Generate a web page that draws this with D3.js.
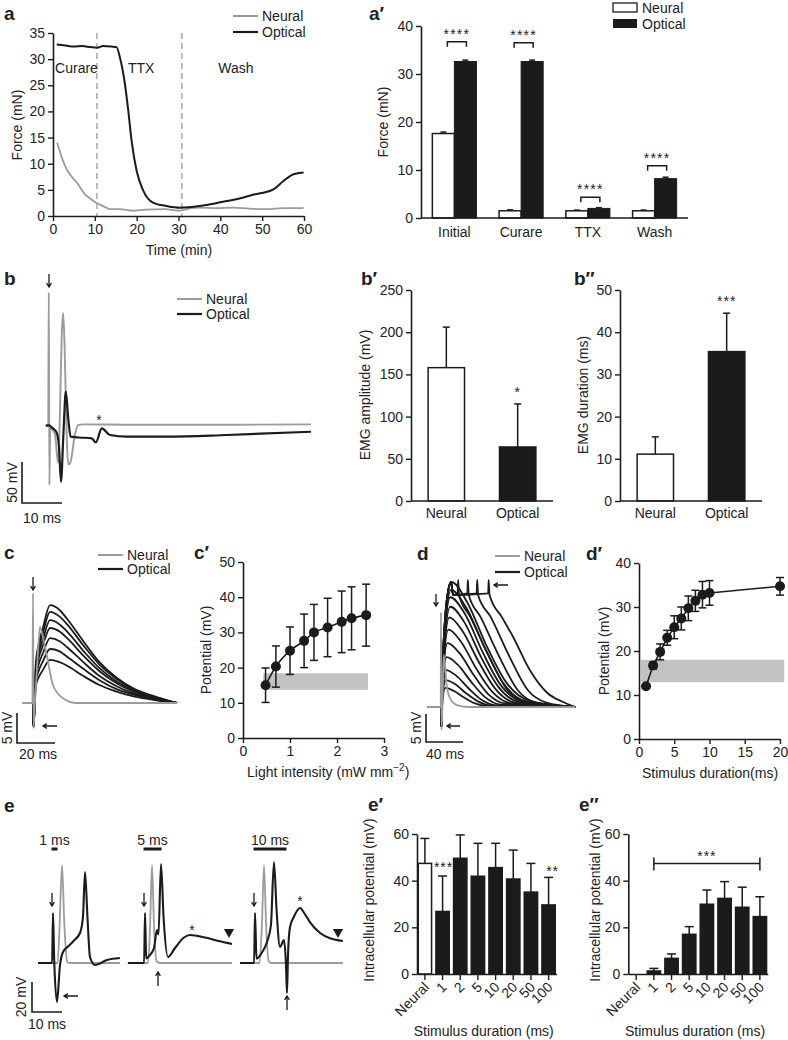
<!DOCTYPE html>
<html><head><meta charset="utf-8">
<script src="https://cdn.jsdelivr.net/npm/d3@7/dist/d3.min.js"></script>
<style>
html,body{margin:0;padding:0;background:#fff;}
svg{display:block;font-family:"Liberation Sans",Arial,Helvetica,sans-serif;}
</style></head><body>
<svg id="fig" width="788" height="1040"></svg>
<script>
// ======================= DATA =======================
const seriesNames = ["Neural", "Optical"];

// ---- a: force time course (min, mN)
const aTimeTicks = [0, 10, 20, 30, 40, 50, 60];
const aForceTicks = [0, 5, 10, 15, 20, 25, 30, 35];
const aNeuralTime  = [1.0, 2.1, 3.3, 4.5, 5.7, 7.7, 9.0, 10.4, 12.0, 13.6, 16, 18.9, 22, 26.8, 30, 33, 35, 39, 43, 47, 51, 55, 59.9];
const aNeuralForce = [14.0, 11.2, 8.9, 7.5, 6.4, 4.1, 3.3, 2.5, 1.9, 1.3, 1.3, 1.0, 1.2, 1.3, 1.0, 1.5, 1.6, 1.5, 1.6, 1.4, 1.3, 1.5, 1.5];
const aOpticalTime  = [0.9, 3, 5, 7, 9, 10.5, 12, 14, 15.2, 16, 17.2, 18, 18.8, 20, 21.6, 24, 27.2, 30.3, 35, 39.2, 43.2, 48, 52.7, 55.1, 57.5, 59.9];
const aOpticalForce = [32.8, 32.6, 32.4, 32.5, 32.3, 32.2, 32.5, 32.4, 32.3, 30.3, 25.2, 20.1, 14.3, 8.6, 4.8, 2.5, 1.9, 1.6, 1.9, 2.5, 3.1, 4.1, 5.1, 6.7, 8.0, 8.3];
const aPhaseBounds = [10.5, 30.8];
const aPhaseLabels = ["Curare", "TTX", "Wash"];
const aPhaseLabelTime = [0.5, 17.9, 39.5];

// ---- a′: force per condition
const aCats = ["Initial", "Curare", "TTX", "Wash"];
const aPrimeTicks = [0, 10, 20, 30, 40];
const aNeuralMean  = [17.6, 1.5, 1.5, 1.5];
const aNeuralSem   = [0.3, 0.2, 0.15, 0.15];
const aOpticalMean = [32.6, 32.6, 2.0, 8.2];
const aOpticalSem  = [0.3, 0.3, 0.15, 0.3];
const aSigLevel = [36.7, 36.5, 4.3, 10.9];
const aSigText  = ["****", "****", "****", "****"];

// ---- b: EMG traces (ms, mV)
const bNeuralT = [-0.3, 0.3, 0.45, 0.6, 0.8, 1.0, 2.0, 2.75, 4.0, 5.3, 5.8, 7.0, 7.75, 9, 20, 40, 66];
const bNeuralV = [0, 0.5, 163, -72, -2, -3, -10, -45, 138, -47, -45, -10, 1, 2, 1.5, 1.5, 2];
const bOpticalT = [-0.3, 0.3, 1.5, 2.4, 3.0, 3.5, 4.1, 4.7, 5.3, 5.9, 8, 11.2, 12.2, 13.7, 15.75, 20, 30, 45, 66];
const bOpticalV = [0, 1, -3, -8, -25, -68, -10, 42, 10, -13, -14, -15, -20, -3, -11, -13, -13, -11, -7];
const bScaleBar = {mV: 50, ms: 10};

// ---- b′, b″
const bGroups = ["Neural", "Optical"];
const bAmpTicks = [0, 50, 100, 150, 200, 250];
const bAmpMean = [158, 64];
const bAmpErr  = [48, 51];
const bAmpSig  = ["", "*"];
const bDurTicks = [0, 10, 20, 30, 40, 50];
const bDurMean = [11.1, 35.4];
const bDurErr  = [4.1, 9.1];
const bDurSig  = ["", "***"];

// ---- c: intracellular traces (ms, mV)
const cTime = [-5.3, 0, 0.3, 1.5, 3, 5, 9, 14, 18, 26.5, 35, 44, 53, 62, 70, 75.8];
const cOptical = [
  [0, 0, -4, 6.5, 9.8, 12.2, 16.3, 15.5, 14.0, 10.3, 6.8, 4.2, 2.4, 1.3, 0.5, 0],
  [0, 0, -4, 6.1, 9.1, 11.4, 15.2, 14.4, 13.1, 9.6, 6.4, 4.0, 2.3, 1.2, 0.5, 0],
  [0, 0, -4, 5.5, 8.3, 10.4, 13.8, 13.1, 11.9, 8.7, 5.8, 3.6, 2.1, 1.1, 0.4, 0],
  [0, 0, -4, 5.0, 7.5, 9.4, 12.5, 11.9, 10.8, 7.9, 5.3, 3.3, 1.9, 1.0, 0.4, 0],
  [0, 0, -4, 4.3, 6.5, 8.1, 10.8, 10.3, 9.3, 6.8, 4.5, 2.8, 1.6, 0.9, 0.3, 0],
  [0, 0, -4, 3.6, 5.4, 6.8, 9.0, 8.6, 7.7, 5.7, 3.8, 2.3, 1.4, 0.7, 0.3, 0],
  [0, 0, -4, 2.9, 4.3, 5.4, 7.2, 6.8, 6.2, 4.5, 3.0, 1.9, 1.1, 0.6, 0.2, 0]
];
const cNeural = [[-5.3, 0], [-0.3, 0], [0, 18.3], [0.3, -4.2], [1, 0], [2.5, 8], [3.7, 12.7], [5.5, 10.5], [7.4, 7.7], [10.5, 3], [15.8, 0.8], [23, 0], [75.8, 0]];
const cScaleBar = {mV: 5, ms: 20};

// ---- c′: potential vs light intensity
const cpTicksX = [0, 1, 2, 3];
const cpTicksY = [0, 10, 20, 30, 40, 50];
const cpIntensity = [0.48, 0.7, 1.0, 1.3, 1.51, 1.8, 2.1, 2.31, 2.62];
const cpPotential = [15.0, 20.3, 24.8, 27.6, 30.0, 31.4, 33.0, 34.0, 34.9];
const cpErr = [4.9, 5.85, 6.75, 7.6, 7.95, 8.3, 8.75, 8.95, 8.8];
const cpThreshold = {x0: 0.43, x1: 2.66, y0: 13.7, y1: 18.4};

// ---- d: intracellular traces for increasing stimulus duration (ms, mV)
const dOnset = [[-15, 0], [0, 0], [0.4, -3.5]];
const dOptical = [
  [[1.5, 1.0], [4.5, 3.4], [13.6, 2.9], [25, 1.7], [36, 0.7], [50, 0.2], [145, 0]],
  [[1.5, 1.4], [5, 4.8], [15, 4.1], [27.5, 2.4], [40, 1.0], [55, 0.2], [145, 0]],
  [[1.5, 2.0], [5.5, 6.6], [16.4, 5.6], [30, 3.3], [43.7, 1.3], [60, 0.3], [145, 0]],
  [[1.5, 2.7], [6, 8.9], [17.8, 7.6], [32.6, 4.5], [47.3, 1.8], [65, 0.4], [145, 0]],
  [[1.5, 3.4], [7, 11.4], [19.6, 9.7], [35.4, 5.7], [51, 2.3], [70, 0.6], [145, 0]],
  [[1.5, 4.1], [8, 13.8], [21.4, 11.7], [38, 6.9], [55, 2.8], [75, 0.7], [145, 0]],
  [[1.5, 4.8], [9, 16], [23, 13.6], [41, 8], [59, 3.2], [80, 0.8], [145, 0]],
  [[1.5, 5.4], [10, 17.9], [25, 15.2], [43, 9], [62, 3.6], [84, 0.9], [145, 0]],
  [[1.5, 5.9], [10, 19.6], [25.6, 16.7], [45, 9.8], [64.6, 3.9], [88, 1], [145, 0]],
  [[1.5, 6.3], [11, 20.9], [27, 17.8], [47.5, 10.5], [67.7, 4.2], [92, 1], [145, 0]],
  [[1.5, 6.6], [11.5, 22.3], [28, 18.8], [49, 11], [70.5, 4.4], [96, 1.1], [145, 0]],
  [[1.5, 6.6], [8, 21], [11, 22.3], [13, 20], [18, 20.3], [18.5, 22.7], [19.5, 20], [32, 16], [52, 9], [72, 3], [92, 0.8], [145, 0]],
  [[1.5, 6.6], [8, 21], [11, 22.3], [13, 20], [28.5, 20.3], [29, 22.7], [30, 20], [43, 16], [63, 9], [83, 3], [103, 0.8], [145, 0]],
  [[1.5, 6.6], [8, 21], [11, 22.3], [13, 20], [38.6, 20.3], [39.1, 22.7], [40.1, 20], [54, 16], [74, 9], [94, 3], [114, 0.8], [145, 0]],
  [[1.5, 6.6], [8, 21], [11, 22.3], [13, 20], [51, 20.3], [51.5, 22.7], [52.5, 20], [66, 16], [78, 12.5], [96, 6.6], [115, 2.5], [132, 0.9], [145, 0]]
];
const dNeural = [[-15, 0], [-0.3, 0], [0, 16.9], [0.5, -4.1], [1.5, 0], [3, 9.3], [6, 4], [10, 1.5], [18, 0.3], [30, 0], [145, 0]];
const dScaleBar = {mV: 5, ms: 40};

// ---- d′: potential vs stimulus duration
const dpTicksX = [0, 5, 10, 15, 20];
const dpTicksY = [0, 10, 20, 30, 40];
const dpDuration  = [1, 2, 3, 4, 5, 6, 7, 8, 9, 10, 20];
const dpPotential = [12.0, 16.7, 19.8, 23.0, 25.4, 27.4, 29.7, 31.4, 32.8, 33.2, 34.7];
const dpErr = [0.5, 0.8, 1.8, 1.7, 2.6, 2.6, 2.8, 2.4, 3.0, 2.8, 2.0];
const dpThreshold = {x0: 0.28, x1: 20.6, y0: 12.9, y1: 18.0};

// ---- e: example traces for 1, 5, 10 ms stimuli (ms, mV)
const eStimDuration = [1, 5, 10];
const eStimLabel = ["1 ms", "5 ms", "10 ms"];
const eOptical = [
  [[-5, 0], [-0.3, 0], [0, 33.3], [0.4, 2], [1.33, -26], [2.3, -2], [3.33, 7.3], [5, 11], [7, 15], [9, 20], [10, 31], [10.67, 60.7], [11.5, 30], [12.33, 4], [14, -1.3], [18, 2], [22.3, 3.3]],
  [[-5.7, 0], [-0.3, 0], [0, 33.3], [0.4, 3], [1.5, 5], [3, 10], [4, 22], [4.5, 19], [5.33, 66], [6.2, 30], [7.67, 4], [10, 10], [13, 17], [15, 18.7], [20, 17], [25, 14.5], [29, 12.7]],
  [[-5, 0], [-0.3, 0], [0, 33.3], [0.5, 3], [2, 6], [4, 14], [5.3, 25], [6.33, 67.3], [7.2, 35], [8.33, 10.7], [9.67, 15.3], [10.3, 0], [10.67, -20], [11, 5], [11.67, 24], [13, 31], [15, 36.7], [16.5, 33], [18.3, 27.3], [21.7, 20], [25, 16.5], [29.3, 14.7]]
];
const eNeural = [
  [[-5, 0], [1.5, 0], [2.2, 25], [3, 65.3], [3.8, 25], [4.7, 1], [5.5, 0], [22.3, 0]],
  [[-5.7, 0], [1, 0], [1.7, 25], [2.33, 65.3], [3.0, 25], [3.9, 1], [5, 0], [29, 0]],
  [[-5, 0], [1.5, 0], [2.3, 25], [3, 65.3], [3.7, 25], [4.6, 1], [5.5, 0], [29.3, 0]]
];
const eScaleBar = {mV: 20, ms: 10};

// ---- e′, e″: intracellular potential by stimulus duration
const eCats = ["Neural", "1", "2", "5", "10", "20", "50", "100"];
const eTicksY = [0, 20, 40, 60];
const ePrimeMean = [47.4, 26.8, 49.6, 41.9, 45.6, 40.7, 35.1, 29.6];
const ePrimeErr  = [10.7, 15.2, 10.0, 14.1, 10.4, 12.4, 12.3, 11.8];
const ePrimeSig  = ["", "***", "", "", "", "", "", "**"];
const eDblMean = [0, 1.3, 6.7, 17.0, 29.9, 32.4, 28.6, 24.6];
const eDblErr  = [0, 1.1, 1.9, 3.3, 6.1, 7.2, 8.6, 8.5];
const eDblSigRange = ["1", "100"];
const eDblSigLevel = 47.4;
const eDblSigText = "***";

// ======================= DRAWING =======================
const FONT = '"Liberation Sans", Arial, Helvetica, sans-serif';
const INK = "#1b1b1b", GREY = "#9b9b9b", TXT = "#222";
const svg = d3.select("#fig");
svg.append("rect").attr("width", 788).attr("height", 1040).attr("fill", "#fff");

function label(x, y, str, opt = {}) {
  const t = svg.append("text").attr("x", x).attr("y", y).text(str)
    .attr("font-size", opt.size || 14).attr("fill", opt.fill || TXT)
    .attr("text-anchor", opt.anchor || "start").attr("font-family", FONT);
  if (opt.bold) t.attr("font-weight", "bold");
  if (opt.rotate !== undefined) t.attr("transform", `rotate(${opt.rotate},${x},${y})`);
  if (opt.ls) t.attr("letter-spacing", opt.ls);
  return t;
}
function styleAxis(g) {
  g.attr("font-family", FONT).attr("font-size", 14);
  g.select(".domain").attr("stroke", INK).attr("stroke-width", 1.6);
  g.selectAll(".tick line").attr("stroke", INK).attr("stroke-width", 1.4);
  g.selectAll(".tick text").attr("fill", TXT);
}
function leftAxis(scale, x, ticks) {
  const g = svg.append("g").attr("transform", `translate(${x},0)`)
    .call(d3.axisLeft(scale).tickValues(ticks).tickFormat(d3.format("d")).tickSize(5).tickPadding(3).tickSizeOuter(0));
  styleAxis(g); return g;
}
function bottomAxis(scale, y, ticks) {
  const g = svg.append("g").attr("transform", `translate(0,${y})`)
    .call(d3.axisBottom(scale).tickValues(ticks).tickFormat(d3.format("d")).tickSize(5).tickPadding(3).tickSizeOuter(0));
  styleAxis(g); return g;
}
function hline(x1, x2, y, w = 1.6) {
  svg.append("line").attr("x1", x1).attr("x2", x2).attr("y1", y).attr("y2", y).attr("stroke", INK).attr("stroke-width", w);
}
function arrow(x1, y1, x2, y2) {
  const a = Math.atan2(y2 - y1, x2 - x1), h = 4.5, w = 0.55;
  const p = `M${x1},${y1}L${x2},${y2}M${x2 - h * Math.cos(a - w)},${y2 - h * Math.sin(a - w)}L${x2},${y2}L${x2 - h * Math.cos(a + w)},${y2 - h * Math.sin(a + w)}`;
  svg.append("path").attr("d", p).attr("fill", "none").attr("stroke", INK).attr("stroke-width", 1.3);
}
function trace(data, xs, ys, color, width) {
  svg.append("path").datum(data)
    .attr("d", d3.line().x(d => xs(d[0])).y(d => ys(d[1])).curve(d3.curveMonotoneX))
    .attr("fill", "none").attr("stroke", color).attr("stroke-width", width).attr("stroke-linejoin", "round");
}
function lineLegend(x, yN, yO) {
  svg.append("line").attr("x1", x).attr("x2", x + 25).attr("y1", yN).attr("y2", yN).attr("stroke", GREY).attr("stroke-width", 2);
  svg.append("line").attr("x1", x).attr("x2", x + 25).attr("y1", yO).attr("y2", yO).attr("stroke", INK).attr("stroke-width", 2.2);
  label(x + 29, yN + 5, seriesNames[0]);
  label(x + 29, yO + 5, seriesNames[1]);
}
function scaleBar(x0, y0, xs, ys, bar, mvText, msText, msX, msY, mvX) {
  const len = xs(bar.ms) - xs(0), ht = ys(0) - ys(bar.mV);
  svg.append("path").attr("d", `M${x0},${y0 - ht}V${y0}H${x0 + len}`).attr("fill", "none").attr("stroke", INK).attr("stroke-width", 1.6);
  label(mvX, y0 - ht / 2, mvText, {anchor: "middle", rotate: -90});
  label(msX, msY, msText, {anchor: "middle"});
}
function errUp(x, yTop, yBar, cap) {
  svg.append("line").attr("x1", x).attr("x2", x).attr("y1", yBar).attr("y2", yTop).attr("stroke", INK).attr("stroke-width", 1.5);
  svg.append("line").attr("x1", x - cap / 2).attr("x2", x + cap / 2).attr("y1", yTop).attr("y2", yTop).attr("stroke", INK).attr("stroke-width", 1.5);
}
function errBoth(x, y1, y2, cap) {
  svg.append("line").attr("x1", x).attr("x2", x).attr("y1", y1).attr("y2", y2).attr("stroke", INK).attr("stroke-width", 1.5);
  [y1, y2].forEach(y => svg.append("line").attr("x1", x - cap / 2).attr("x2", x + cap / 2).attr("y1", y).attr("y2", y).attr("stroke", INK).attr("stroke-width", 1.5));
}

// ---------- Panel a ----------
{
  const x = d3.scaleLinear().domain([0, 60]).range([53, 304]);
  const y = d3.scaleLinear().domain([0, 35]).range([216, 33]);
  aPhaseBounds.forEach(t => svg.append("line").attr("x1", x(t)).attr("x2", x(t)).attr("y1", y(35)).attr("y2", y(0))
    .attr("stroke", "#a9a9a9").attr("stroke-width", 1.5).attr("stroke-dasharray", "6,4"));
  trace(d3.zip(aNeuralTime, aNeuralForce), x, y, GREY, 1.8);
  trace(d3.zip(aOpticalTime, aOpticalForce), x, y, INK, 2);
  leftAxis(y, 53, aForceTicks);
  bottomAxis(x, 216, aTimeTicks);
  aPhaseLabels.forEach((s, i) => label(x(aPhaseLabelTime[i]), 73, s));
  label(179, 255, "Time (min)", {anchor: "middle"});
  label(22, 125, "Force (mN)", {anchor: "middle", rotate: -90});
  lineLegend(233, 16, 32);
  label(4, 20, "a", {bold: true, size: 19});
}

// ---------- Panel a′ ----------
{
  const x0 = d3.scaleBand().domain(aCats).range([421, 688]).paddingInner(0.34).paddingOuter(0.17);
  const x1 = d3.scaleBand().domain(seriesNames).range([0, x0.bandwidth()]);
  const y = d3.scaleLinear().domain([0, 40]).range([218, 26]);
  const bw = x1.bandwidth();
  aCats.forEach((c, i) => {
    const xn = x0(c) + x1("Neural"), xo = x0(c) + x1("Optical");
    svg.append("rect").attr("x", xn).attr("width", bw).attr("y", y(aNeuralMean[i])).attr("height", y(0) - y(aNeuralMean[i]))
      .attr("fill", "#fff").attr("stroke", INK).attr("stroke-width", 1.5);
    svg.append("rect").attr("x", xo).attr("width", bw).attr("y", y(aOpticalMean[i])).attr("height", y(0) - y(aOpticalMean[i]))
      .attr("fill", INK).attr("stroke", INK).attr("stroke-width", 1);
    errUp(xn + bw / 2, y(aNeuralMean[i] + aNeuralSem[i]), y(aNeuralMean[i]), 6);
    errUp(xo + bw / 2, y(aOpticalMean[i] + aOpticalSem[i]), y(aOpticalMean[i]), 6);
    const bx1 = xn + bw / 2 + 4, bx2 = xo + bw / 2 + 1, by = y(aSigLevel[i]);
    svg.append("path").attr("d", `M${bx1},${by + 5}V${by}H${bx2}V${by + 5}`).attr("fill", "none").attr("stroke", INK).attr("stroke-width", 1.5);
    label((bx1 + bx2) / 2, by - 3, aSigText[i], {anchor: "middle", size: 14, ls: 1.2});
    label(x0(c) + x0.bandwidth() / 2, 237, c, {anchor: "middle"});
  });
  hline(421, 688, y(0));
  leftAxis(y, 421, aPrimeTicks);
  label(388, 122, "Force (mN)", {anchor: "middle", rotate: -90});
  svg.append("rect").attr("x", 613).attr("y", 3).attr("width", 24).attr("height", 9).attr("fill", "#fff").attr("stroke", INK).attr("stroke-width", 1.3);
  svg.append("rect").attr("x", 613).attr("y", 19).attr("width", 24).attr("height", 9).attr("fill", INK);
  label(642, 13, seriesNames[0]);
  label(642, 29, seriesNames[1]);
  label(369, 20, "a′", {bold: true, size: 19});
}

// ---------- Panel b ----------
{
  const x = d3.scaleLinear().domain([0, 10]).range([47, 87]);
  const y = d3.scaleLinear().domain([0, 50]).range([426, 385]);
  trace(d3.zip(bNeuralT, bNeuralV), x, y, GREY, 1.9);
  trace(d3.zip(bOpticalT, bOpticalV), x, y, INK, 2.2);
  arrow(49, 274, 49, 287);
  label(99, 425, "*", {anchor: "middle"});
  scaleBar(22, 503, x, y, bScaleBar, "50 mV", "10 ms", 42, 523, 17);
  lineLegend(177, 299, 314);
  label(4, 285, "b", {bold: true, size: 19});
}

// ---------- Panels b′ and b″ ----------
function twoBar(rangeX, y, ticks, mean, err, sig, title, titleX, letter, letterX) {
  const x = d3.scaleBand().domain(bGroups).range(rangeX).paddingInner(0.49).paddingOuter(0.24);
  bGroups.forEach((g, i) => {
    svg.append("rect").attr("x", x(g)).attr("width", x.bandwidth()).attr("y", y(mean[i])).attr("height", y(0) - y(mean[i]))
      .attr("fill", i === 0 ? "#fff" : INK).attr("stroke", INK).attr("stroke-width", 1.5);
    const cx = x(g) + x.bandwidth() / 2;
    errUp(cx, y(mean[i] + err[i]), y(mean[i]), 7);
    if (sig[i]) label(cx, y(mean[i] + err[i]) - 7, sig[i], {anchor: "middle", ls: 1});
    label(cx, 518, g, {anchor: "middle"});
  });
  hline(rangeX[0], rangeX[1], y(0));
  leftAxis(y, rangeX[0], ticks);
  label(titleX, 395, title, {anchor: "middle", rotate: -90});
  label(letterX, 285, letter, {bold: true, size: 19});
}
twoBar([411, 553], d3.scaleLinear().domain([0, 250]).range([501, 290]), bAmpTicks, bAmpMean, bAmpErr, bAmpSig, "EMG amplitude (mV)", 370, "b′", 361);
twoBar([620, 762], d3.scaleLinear().domain([0, 50]).range([501, 290]), bDurTicks, bDurMean, bDurErr, bDurSig, "EMG duration (ms)", 588, "b″", 574);

// ---------- Panel c ----------
{
  const x = d3.scaleLinear().domain([0, 20]).range([33, 71]);
  const y = d3.scaleLinear().domain([0, 5]).range([703, 673]);
  cOptical.forEach(vals => trace(d3.zip(cTime, vals), x, y, INK, 1.8));
  trace(cNeural, x, y, GREY, 1.8);
  arrow(33, 577, 33, 590);
  arrow(57, 726, 43, 726);
  scaleBar(17, 743, x, y, cScaleBar, "5 mV", "20 ms", 38, 759, 12);
  lineLegend(98, 555, 569);
  label(4, 559, "c", {bold: true, size: 19});
}

// ---------- Panel c′ ----------
{
  const x = d3.scaleLinear().domain([0, 3]).range([243, 384]);
  const y = d3.scaleLinear().domain([0, 50]).range([738, 562]);
  svg.append("rect").attr("x", x(cpThreshold.x0)).attr("width", x(cpThreshold.x1) - x(cpThreshold.x0))
    .attr("y", y(cpThreshold.y1)).attr("height", y(cpThreshold.y0) - y(cpThreshold.y1)).attr("fill", "#c2c2c2");
  cpIntensity.forEach((v, i) => errBoth(x(v), y(cpPotential[i] - cpErr[i]), y(cpPotential[i] + cpErr[i]), 8));
  svg.append("path").datum(d3.zip(cpIntensity, cpPotential))
    .attr("d", d3.line().x(d => x(d[0])).y(d => y(d[1])).curve(d3.curveMonotoneX))
    .attr("fill", "none").attr("stroke", INK).attr("stroke-width", 1.6);
  svg.selectAll(null).data(d3.zip(cpIntensity, cpPotential)).enter().append("circle")
    .attr("cx", d => x(d[0])).attr("cy", d => y(d[1])).attr("r", 5).attr("fill", INK);
  leftAxis(y, 243, cpTicksY);
  bottomAxis(x, 738, cpTicksX);
  label(211, 650, "Potential (mV)", {anchor: "middle", rotate: -90});
  const t = label(247, 777, "Light intensity (mW mm");
  t.append("tspan").attr("dy", -6).attr("font-size", 10).text("−2");
  t.append("tspan").attr("dy", 6).text(")");
  label(194, 559, "c′", {bold: true, size: 19});
}

// ---------- Panel d ----------
{
  const x = d3.scaleLinear().domain([0, 40]).range([441, 478]);
  const y = d3.scaleLinear().domain([0, 5]).range([707, 679]);
  dOptical.forEach(tr => trace(dOnset.concat(tr), x, y, INK, 1.8));
  trace(dNeural, x, y, GREY, 1.8);
  arrow(436, 594, 436, 606);
  arrow(508, 585, 494, 585);
  arrow(460, 726, 447, 726);
  scaleBar(426, 742, x, y, dScaleBar, "5 mV", "40 ms", 445, 759, 421);
  lineLegend(495, 556, 572);
  label(417, 560, "d", {bold: true, size: 19});
}

// ---------- Panel d′ ----------
{
  const x = d3.scaleLinear().domain([0, 20]).range([639, 780]);
  const y = d3.scaleLinear().domain([0, 40]).range([739, 563]);
  svg.append("rect").attr("x", x(dpThreshold.x0)).attr("width", x(dpThreshold.x1) - x(dpThreshold.x0))
    .attr("y", y(dpThreshold.y1)).attr("height", y(dpThreshold.y0) - y(dpThreshold.y1)).attr("fill", "#c2c2c2");
  dpDuration.forEach((v, i) => errBoth(x(v), y(dpPotential[i] - dpErr[i]), y(dpPotential[i] + dpErr[i]), 8));
  svg.append("path").datum(d3.zip(dpDuration, dpPotential))
    .attr("d", d3.line().x(d => x(d[0])).y(d => y(d[1])))
    .attr("fill", "none").attr("stroke", INK).attr("stroke-width", 1.6);
  svg.selectAll(null).data(d3.zip(dpDuration, dpPotential)).enter().append("circle")
    .attr("cx", d => x(d[0])).attr("cy", d => y(d[1])).attr("r", 5).attr("fill", INK);
  leftAxis(y, 639, dpTicksY);
  bottomAxis(x, 739, dpTicksX);
  label(609, 651, "Potential (mV)", {anchor: "middle", rotate: -90});
  label(710, 778, "Stimulus duration(ms)", {anchor: "middle"});
  label(586, 560, "d′", {bold: true, size: 19});
}

// ---------- Panel e ----------
{
  const origins = [53, 145, 255];
  const y = d3.scaleLinear().domain([0, 20]).range([963, 933]);
  origins.forEach((ox, i) => {
    const x = d3.scaleLinear().domain([0, 10]).range([ox, ox + 30]);
    trace(eNeural[i], x, y, GREY, 1.8);
    trace(eOptical[i], x, y, INK, 2.1);
    svg.append("line").attr("x1", x(0)).attr("x2", x(eStimDuration[i])).attr("y1", 849).attr("y2", 849)
      .attr("stroke", INK).attr("stroke-width", 3).attr("stroke-linecap", "square");
    label((x(0) + x(eStimDuration[i])) / 2, 845, eStimLabel[i], {anchor: "middle"});
    arrow(ox - 1, 893, ox - 1, 906);
  });
  arrow(78, 996, 64, 996);
  arrow(158, 986, 158, 972);
  arrow(287, 1010, 287, 996);
  label(192, 935, "*", {anchor: "middle"});
  label(300, 906, "*", {anchor: "middle"});
  const tri = d3.symbol().type(d3.symbolTriangle).size(45);
  [[229, 932], [338, 932]].forEach(p => svg.append("path").attr("d", tri())
    .attr("transform", `translate(${p[0]},${p[1]}) rotate(180)`).attr("fill", INK));
  const xs = d3.scaleLinear().domain([0, 10]).range([0, 30]);
  scaleBar(32, 1012, xs, y, eScaleBar, "20 mV", "10 ms", 47, 1029, 26);
  label(4, 812, "e", {bold: true, size: 19});
}

// ---------- Panels e′ and e″ ----------
function eBars(range, mean, err, letter, letterX, titleX) {
  const x = d3.scaleBand().domain(eCats).range(range).paddingInner(0.245).paddingOuter(0.07);
  const y = d3.scaleLinear().domain([0, 60]).range([974, 834]);
  eCats.forEach((c, i) => {
    const cx = x(c) + x.bandwidth() / 2;
    if (mean[i] > 0) {
      svg.append("rect").attr("x", x(c)).attr("width", x.bandwidth()).attr("y", y(mean[i])).attr("height", y(0) - y(mean[i]))
        .attr("fill", i === 0 ? "#fff" : INK).attr("stroke", INK).attr("stroke-width", 1.5);
      errUp(cx, y(mean[i] + err[i]), y(mean[i]), 9);
    }
    label(cx + 5, 988, c, {anchor: "end", rotate: -45});
  });
  const gx = svg.append("g").attr("transform", "translate(0,974)")
    .call(d3.axisBottom(x).tickSize(6).tickFormat("").tickSizeOuter(0));
  styleAxis(gx);
  leftAxis(y, range[0], eTicksY);
  label(titleX, 900, "Intracellular potential (mV)", {anchor: "middle", rotate: -90});
  label((range[0] + range[1]) / 2 - 3, 1036, "Stimulus duration (ms)", {anchor: "middle"});
  label(letterX, 811, letter, {bold: true, size: 19});
  return {x, y};
}
{
  const p = eBars([417, 556.5], ePrimeMean, ePrimeErr, "e′", 368, 374);
  eCats.forEach((c, i) => {
    if (ePrimeSig[i]) {
      const cx = p.x(c) + p.x.bandwidth() / 2;
      const yy = ePrimeSig[i] === "***" ? 872 : p.y(ePrimeMean[i] + ePrimeErr[i]) - 1;
      label(cx + (ePrimeSig[i] === "***" ? 1 : 4), yy, ePrimeSig[i], {anchor: "middle", ls: 1});
    }
  });
  const q = eBars([628.3, 767.8], eDblMean, eDblErr, "e″", 579, 600);
  const xa = q.x(eDblSigRange[0]) + q.x.bandwidth() / 2, xb = q.x(eDblSigRange[1]) + q.x.bandwidth() / 2, yb = q.y(eDblSigLevel);
  hline(xa, xb, yb, 1.5);
  svg.append("line").attr("x1", xa).attr("x2", xa).attr("y1", yb - 6).attr("y2", yb + 7).attr("stroke", INK).attr("stroke-width", 1.5);
  svg.append("line").attr("x1", xb).attr("x2", xb).attr("y1", yb - 6).attr("y2", yb + 7).attr("stroke", INK).attr("stroke-width", 1.5);
  label((xa + xb) / 2, yb - 2, eDblSigText, {anchor: "middle", ls: 1});
}
</script>
</body></html>
